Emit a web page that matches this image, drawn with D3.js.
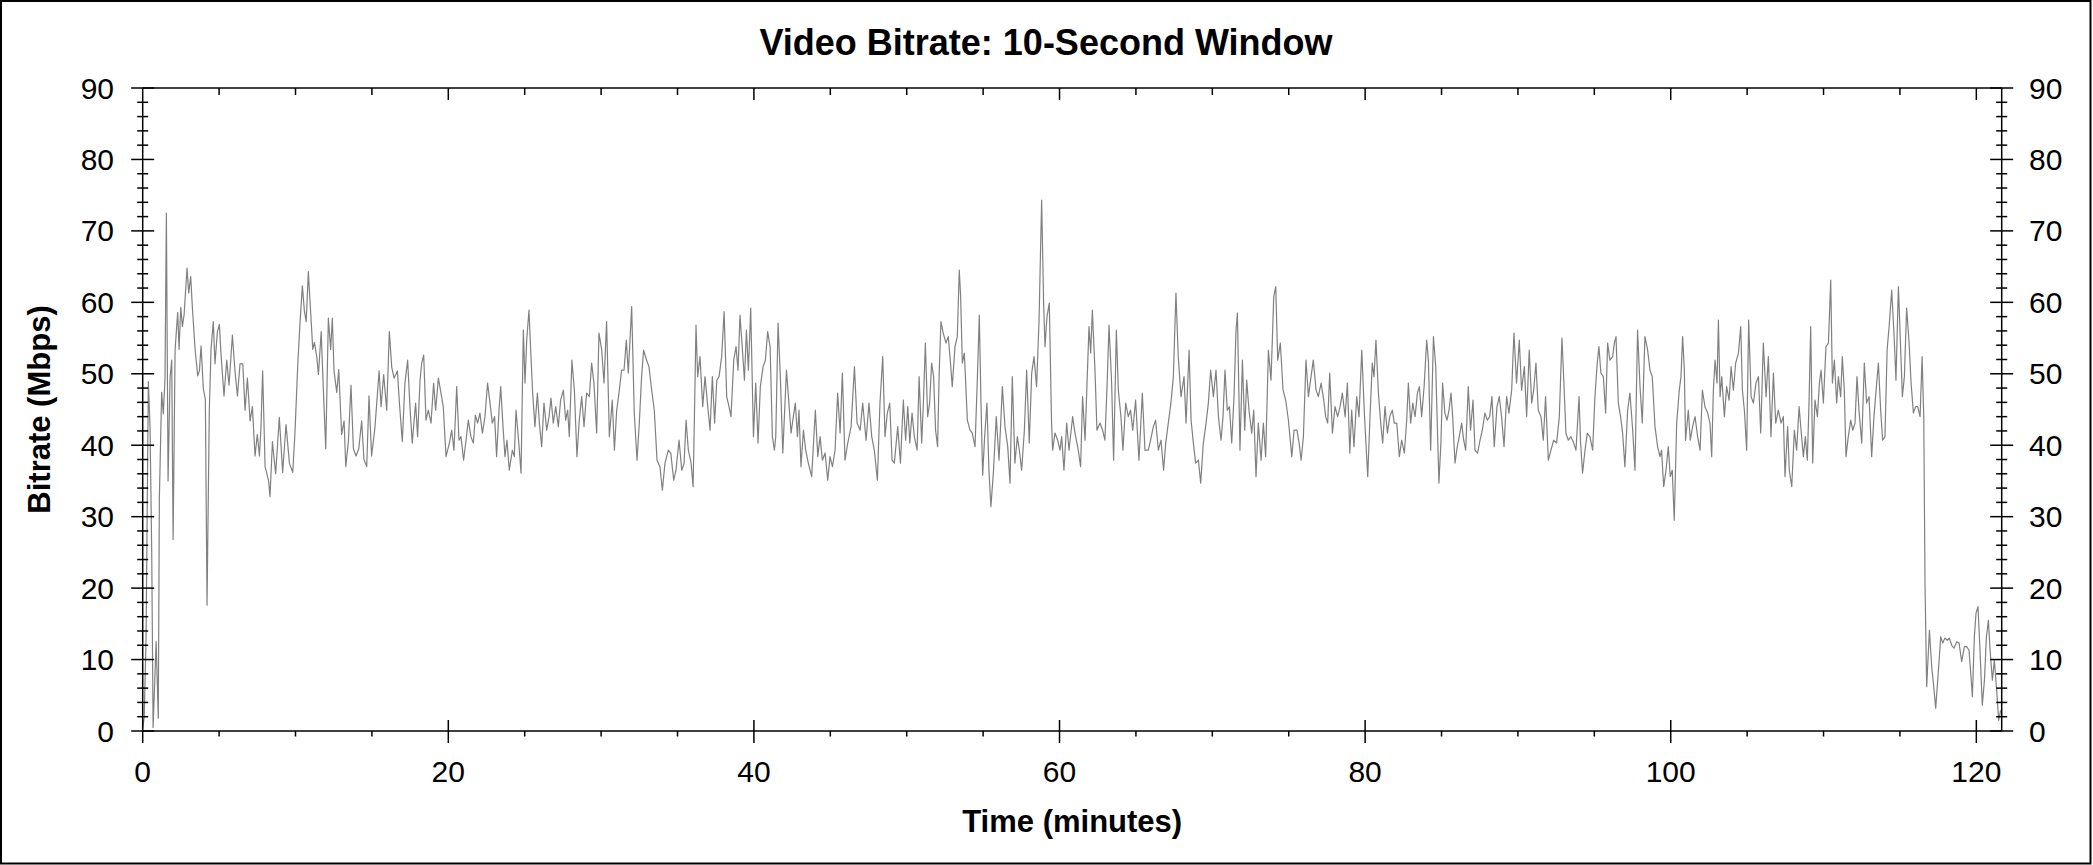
<!DOCTYPE html>
<html><head><meta charset="utf-8">
<script src="https://cdn.jsdelivr.net/npm/d3@7"></script>
<style>
body{margin:0;background:#fff}
svg{display:block}
text{font-family:Arial,"Liberation Sans",sans-serif;fill:#000}
</style>
</head><body>
<svg id="chart" width="2093" height="865"></svg>
<script>
const chartTitle = "Video Bitrate: 10-Second Window";
const xAxisTitle = "Time (minutes)";
const yAxisTitle = "Bitrate (Mbps)";
const xTickValues = [0, 20, 40, 60, 80, 100, 120];
const yTickValues = [0, 10, 20, 30, 40, 50, 60, 70, 80, 90];
const xDomain = [0, 121.66];
const yDomain = [0, 90];

// [minute, Mbps]
const bitrateSeries = [
[0,0.3],[0.1,2],[0.22,13],[0.37,48.9],[0.48,42.5],[0.59,25.1],[0.68,0.5],[0.88,12.5],[1.02,1.8],[1.09,32.5],
[1.24,47.4],[1.35,44.4],[1.46,49.4],[1.55,72.5],[1.66,35],[1.79,49.4],[1.9,51.9],[1.99,26.8],[2.12,53.4],[2.29,58.6],
[2.38,53.4],[2.49,59.3],[2.6,56.6],[2.71,58.3],[2.9,64.8],[3.01,61.3],[3.14,63.6],[3.25,59.3],[3.43,53.4],[3.6,49.7],
[3.71,50.4],[3.82,53.9],[3.97,47.9],[4.1,46.4],[4.21,17.6],[4.25,25.1],[4.36,44.9],[4.47,53.4],[4.62,57.3],[4.73,51.4],
[4.89,55.9],[5.02,56.9],[5.12,52.9],[5.32,46.9],[5.5,51.9],[5.65,48.4],[5.87,55.4],[6.04,50.4],[6.2,46.9],[6.37,51.4],
[6.55,51.4],[6.7,44.9],[6.85,49.4],[7.03,43.4],[7.18,45.4],[7.35,38.5],[7.5,41.5],[7.64,38.5],[7.74,42.5],[7.85,50.4],
[8.01,37],[8.24,35],[8.33,32.8],[8.49,40.5],[8.7,36],[8.94,43.9],[9.16,36.2],[9.38,42.9],[9.6,37.5],[9.82,36.2],
[9.97,42],[10.15,51.4],[10.3,57.3],[10.45,62.3],[10.58,58.8],[10.7,57.3],[10.84,64.3],[11,58.3],[11.13,53.4],[11.24,54.4],
[11.39,52.4],[11.5,49.9],[11.68,55.9],[11.83,47.4],[11.98,39.5],[12.15,57.8],[12.3,53.4],[12.41,57.8],[12.52,50.4],[12.7,47.4],
[12.83,50.6],[13.02,41.5],[13.18,43.4],[13.29,37],[13.46,40.5],[13.63,48.4],[13.79,39.5],[13.96,38.5],[14.14,39.5],[14.33,43.4],
[14.48,38],[14.66,37],[14.81,46.9],[14.98,38.5],[15.2,42.5],[15.47,50.4],[15.6,45.4],[15.77,49.9],[15.97,44.9],[16.14,55.9],
[16.3,50.9],[16.45,49.4],[16.67,50.4],[16.8,45.9],
[16.99,40.5],[17.16,48.7],[17.34,51.9],[17.49,45.4],[17.64,40.3],[17.86,45.9],[17.99,41.2],[18.15,49.1],[18.26,51.5],[18.39,52.6],
[18.54,43.5],[18.69,44.9],[18.87,43.1],[19.04,48.7],[19.17,44.9],[19.35,49.4],[19.52,47.3],[19.67,45.4],[19.85,38.4],[20.07,40.3],
[20.22,42.1],[20.37,39.3],[20.55,48.2],[20.7,40.7],[20.83,41.2],[21,37.9],[21.16,40.7],[21.31,43.5],[21.48,41.2],[21.64,40.3],
[21.77,44.2],[21.92,43.1],[22.07,44.5],[22.23,41.7],[22.4,44],[22.57,48.7],[22.73,45.9],[22.88,43.1],[23.03,44],[23.16,38.4],
[23.32,44.9],[23.43,48.2],[23.58,42.6],[23.71,38.4],[23.84,40.7],[23.99,36.5],[24.19,39.3],[24.32,38.4],[24.43,44.9],[24.58,41.2],
[24.76,36.1],[24.91,56.1],[25.02,48.7],[25.13,54.7],[25.28,58.9],[25.41,52.4],[25.52,47.3],[25.67,42.6],[25.83,47.3],[25.96,43.1],
[26.11,39.8],[26.26,45.9],[26.44,42.1],[26.59,44],[26.72,46.6],[26.87,43.1],[27.03,45.4],[27.2,42.6],[27.35,46.3],[27.53,47.7],
[27.68,43.5],[27.81,44.9],[27.92,41.2],[28.09,51.9],[28.25,47.7],[28.42,38.4],[28.57,43.5],[28.73,46.8],[28.88,42.6],[29.05,47.3],
[29.23,46.8],[29.38,51.5],[29.53,48.7],[29.71,41.7],[29.86,55.7],[30.04,53.3],[30.19,48.7],[30.36,57.3],[30.54,41.2],[30.73,46.3],
[30.87,39.3],[31.02,44.9],[31.17,47.3],[31.34,50.5],[31.5,50.5],[31.65,54.7],[31.78,50.1],[32,59.4],[32.17,44.5],[32.35,37.9],
[32.5,43.1],[32.65,49.6],[32.78,53.3],[32.98,51.9],[33.13,51],[33.31,47.7],[33.48,44.9],[33.66,37.9],[33.85,37],
[34.01,33.7],[34.18,37.5],[34.4,39.3],[34.56,38.9],[34.75,35.1],[34.9,36.5],[35.1,40.7],[35.28,36.5],[35.43,37.5],[35.56,43.5],
[35.71,39.3],[35.89,37.5],[36.02,34.2],[36.1,43.1],[36.21,56.8],[36.32,49.6],[36.47,52.4],[36.65,45.4],[36.8,49.6],[36.98,45.4],
[37.13,42.1],[37.28,49.6],[37.43,43.1],[37.57,49.1],[37.72,49.6],[37.89,52.4],[38.05,58.7],[38.22,46.8],[38.37,45.4],[38.5,44],
[38.68,51.9],[38.83,53.8],[38.96,50.5],[39.09,58.2],[39.25,53.3],[39.38,49.1],[39.51,56.1],[39.64,50.5],[39.79,59.2],[39.97,41.2],
[40.12,48.7],[40.27,40.3],[40.42,48.2],[40.6,51],[40.75,51.9],[40.9,55.9],[41.06,53.8],[41.21,41.2],[41.34,39.3],[41.43,41.2],
[41.58,57.1],[41.73,49.6],[41.89,38.9],[42.13,50.5],[42.26,46.8],[42.43,41.7],[42.58,44],[42.71,45.9],[42.85,41.2],[42.95,44.9],
[43.08,37],[43.24,42.1],[43.39,39.3],[43.56,37.5],[43.78,35.6],[44.02,44.9],[44.18,38.4],[44.33,41.2],[44.48,37.9],[44.66,38.9],
[44.83,35.1],[44.98,38.4],[45.14,37],[45.31,39.3],[45.48,47.3],[45.64,41.7],[45.79,50.1],[45.96,37.9],[46.14,40.3],[46.36,42.6],
[46.58,51],[46.75,43.1],[46.95,42.1],[47.12,45.9],[47.34,40.7],[47.53,45.9],[47.71,41.2],[47.88,39.3],[48.08,35.1],[48.25,45.9],
[48.43,52.4],[48.58,41.2],[48.73,44.5],[48.89,45.9],[49.04,37.9],[49.19,37.5],[49.41,42.6],[49.59,37.5],[49.78,46.3],[49.93,40.7],
[50.07,45.4],[50.2,40.3],[50.35,44.5],[50.5,41.2],[50.68,39.3],[50.81,49.6],[50.98,40.3],
[51.09,45.9],[51.22,54.3],[51.37,44],[51.5,45.9],[51.63,51.5],[51.76,49.6],[51.89,42.1],[52.02,39.8],[52.13,50.5],[52.24,57.3],
[52.39,55.7],[52.57,54.3],[52.72,55.2],[52.85,51.9],[52.98,48.2],[53.16,53.8],[53.31,55.2],[53.44,64.5],[53.53,60.8],[53.64,51.5],
[53.77,52.9],[53.97,43.5],[54.14,42.1],[54.29,41.7],[54.47,39.8],[54.62,49.1],[54.75,58.2],[54.86,45.9],[54.97,35.8],[55.1,41.2],
[55.25,45.9],[55.38,36.5],[55.51,31.4],[55.67,36.1],[55.86,44],[56.04,37.9],[56.26,48.2],[56.43,42.6],[56.61,39.8],[56.76,34.7],
[56.91,49.6],[57.08,37.5],[57.24,41.2],[57.37,39.3],[57.52,36.5],[57.7,42.1],[57.85,50.5],[58.02,40.3],[58.18,50.1],[58.33,52.4],
[58.5,48.2],[58.66,57.5],[58.83,74.3],[58.96,59.9],[59.05,53.8],[59.18,58],[59.33,59.9],[59.48,43.1],[59.55,39.3],[59.7,41.7],
[59.88,40.7],[60.03,39.3],[60.14,41.2],[60.29,36.5],[60.47,43.1],[60.62,39.3],[60.86,44],[61.01,41.7],[61.23,39.3],[61.38,37],
[61.51,46.8],[61.67,40.7],[61.77,46.8],[61.93,56.6],[62.04,52.9],[62.15,58.9],[62.32,50.5],[62.45,42.1],[62.65,43.1],[62.82,42.1],
[62.97,40.7],[63.11,48.2],[63.24,56.8],[63.41,48.7],[63.54,37.9],[63.72,56.1],[63.85,47.7],[64.02,44],[64.15,39.3],[64.33,45.9],
[64.5,44],[64.65,44.9],[64.79,42.1],[64.98,46.3],[65.2,37.9],[65.42,47.3],[65.59,39.3],[65.81,39.3],[65.96,40.7],[66.14,42.6],
[66.29,43.5],[66.47,39.3],[66.64,40.7],[66.81,36.5],[66.95,40.3],[67.12,43.1],[67.29,45.9],[67.45,49.6],[67.62,61.3],[67.77,52.4],
[67.95,46.8],
[68.15,49.6],[68.28,43.1],[68.48,53.3],[68.61,43.5],[68.76,40.3],[68.91,37.5],[69.09,37.9],[69.24,34.7],[69.41,40.3],[69.59,43.1],
[69.74,45.9],[69.89,50.5],[70.07,46.8],[70.24,50.5],[70.4,44],[70.57,40.7],[70.7,44],[70.83,50.5],[70.98,44.9],[71.12,45.4],
[71.27,40.3],[71.42,46.8],[71.55,56.1],[71.64,58.5],[71.81,39.3],[71.97,51.9],[72.12,42.1],[72.25,49.1],[72.4,44.9],[72.58,41.7],
[72.71,44.9],[72.86,35.6],[73.01,43.1],[73.19,37.9],[73.34,43.1],[73.49,38.4],[73.67,53.3],[73.84,49.1],[74.02,60.8],[74.15,62.2],
[74.28,51.9],[74.45,54.3],[74.63,47.7],[74.8,46.3],[74.98,43.5],[75.2,38.4],[75.35,42.1],[75.54,42.1],[75.68,40.3],[75.81,37.9],
[75.96,41.2],[76.13,51.9],[76.29,46.8],[76.46,49.6],[76.61,51.9],[76.79,47.7],[76.94,46.8],[77.12,48.7],[77.29,46.3],[77.42,44],
[77.55,43.1],[77.68,50.1],[77.86,41.7],[78.03,45.4],[78.2,44],[78.36,45.4],[78.51,47.3],[78.69,44],[78.84,48.7],[79,38.9],
[79.12,44.9],[79.27,39.8],[79.45,46.8],[79.6,44],[79.78,53.3],[79.95,44.5],[80.17,35.6],[80.32,44],[80.47,51.5],[80.58,49.6],
[80.71,54.7],[80.87,47.3],[81.02,43.1],[81.15,40.3],[81.3,45.4],[81.46,41.7],[81.61,44],[81.78,44.9],[81.91,43.1],[82.07,43.1],
[82.24,38.4],[82.39,40.7],[82.57,38.9],[82.72,43.5],[82.83,48.7],[82.98,43.1],[83.12,45.9],[83.27,44],[83.42,47.3],[83.55,48.2],
[83.7,44],[83.86,48.2],[84.03,54.7],[84.14,51.9],[84.29,39.3],[84.47,55.2],[84.62,51],
[84.83,34.7],[84.96,40.3],[85.07,48.7],[85.22,44.5],[85.36,43.5],[85.49,44.9],[85.62,47.3],[85.73,44],[85.88,37.5],[86.03,39.8],
[86.16,41.2],[86.32,43.1],[86.45,40.7],[86.58,39.3],[86.75,48.2],[86.9,42.1],[87.06,46.3],[87.19,39.3],[87.36,38.9],[87.52,40.7],
[87.67,42.1],[87.84,44.5],[88,43.5],[88.15,44],[88.3,46.8],[88.45,39.8],[88.63,45.4],[88.78,46.8],[88.93,44],[89.09,39.8],
[89.26,46.8],[89.41,44.5],[89.59,47.7],[89.74,55.7],[89.91,48.7],[90.09,54.7],[90.24,47.7],[90.42,51],[90.57,44],[90.74,53.3],
[90.9,45.9],[91.03,47.7],[91.18,51.5],[91.33,44.9],[91.51,44],[91.66,40.7],[91.81,46.8],[91.99,37.9],[92.16,39.3],[92.34,40.7],
[92.53,40.3],[92.71,44],[92.88,55],[93.01,48.7],[93.14,41.7],[93.3,40.7],[93.47,41.2],[93.65,40.3],[93.8,39.3],[94,46.8],
[94.1,40.3],[94.23,36.1],[94.39,39.3],[94.54,41.7],[94.71,41.2],[94.89,39.3],[95.04,46.8],[95.19,51.5],[95.3,53.8],[95.43,50.1],
[95.59,49.6],[95.74,44.5],[95.87,54.3],[96.02,51.9],[96.2,52.4],[96.31,54.3],[96.42,55.2],[96.57,45.9],[96.72,44],[96.85,41.7],
[97,37],[97.18,44.9],[97.33,47.3],[97.51,42.1],[97.66,36.5],[97.83,56.1],[97.99,48.2],[98.14,43.1],[98.31,55.2],[98.49,53.3],
[98.64,50.5],[98.79,49.6],[98.97,42.6],[99.14,39.8],[99.3,38.4],[99.4,39.3],[99.54,34.2],[99.69,36.5],[99.84,39.8],[99.97,35.6],
[100.1,36.5],[100.23,29.5],[100.39,43.1],[100.56,47.7],[100.67,49.6],[100.78,55.2],[100.89,50.5],[100.97,40.7],[101.15,44.9],[101.28,40.7],
[101.43,42.6],
[101.59,44],[101.76,41.2],[101.92,39.3],[102.07,47.7],[102.24,45.4],[102.42,44.5],[102.57,43.1],[102.68,38.4],[102.79,47.7],[102.9,51.9],
[103.03,48.7],[103.12,57.5],[103.23,46.8],[103.34,49.6],[103.51,44],[103.66,48.2],[103.82,46.3],[103.95,51],[104.1,47.7],[104.25,51.5],
[104.43,52.9],[104.58,56.6],[104.69,47.7],[104.82,44.9],[104.97,39.3],[105.1,57.5],[105.26,46.8],[105.41,45.9],[105.58,48.7],[105.74,49.6],
[105.89,41.7],[106.06,54.3],[106.24,46.8],[106.39,52.4],[106.56,41.2],[106.72,50.1],[106.87,43.1],[107.04,44.9],[107.22,43.1],[107.37,44],
[107.48,35.6],[107.65,42.6],[107.76,36.5],[107.92,34.2],[108.09,42.1],[108.24,39.3],[108.4,45.4],[108.53,42.1],[108.68,38.4],[108.81,41.2],
[108.94,37.9],[109.05,45.9],[109.16,56.6],[109.29,37.5],[109.44,46.3],[109.6,44],[109.73,48.7],[109.84,50.5],[109.99,45.9],[110.16,53.8],
[110.32,54.3],[110.47,63.1],[110.58,48.7],[110.71,51.9],[110.86,45.9],[110.97,49.6],[111.12,46.8],[111.23,52.4],[111.36,47.7],[111.47,38.4],
[111.62,41.2],[111.78,43.5],[111.91,42.1],[112.06,43.1],[112.19,49.6],[112.32,44.9],[112.5,40.3],[112.67,51.5],[112.82,45.9],[112.98,46.8],
[113.15,38.4],[113.3,44],[113.44,47.7],[113.59,51.5],[113.74,44.9],[113.87,40.7],[114.02,41.2],[114.16,53.3],[114.31,57.1],[114.46,61.7],
[114.61,55.7],[114.74,49.1],[114.9,62.2],[115.05,53.3],[115.16,46.8],[115.29,49.6],[115.44,59.2],[115.6,54.3],[115.73,48.7],[115.88,44.5],
[116.03,45.4],[116.16,45.4],[116.32,44],[116.45,52.4],[116.56,44],[116.64,20.7],[116.75,6.2],[116.93,14.1],[117.08,9],[117.19,6.7],
[117.34,3.2],[117.52,8.5],[117.67,13.2],[117.8,12.3],[117.95,13],[118.1,12.7],[118.23,13],[118.39,12],[118.54,11.6],[118.72,12.5],
[118.87,12.3],[119.04,9.7],[119.22,11.8],[119.37,11.8],[119.52,11.3],[119.65,7.6],[119.74,4.8],[119.87,13.2],[119.98,16.5],[120.11,17.4],
[120.24,11.3],[120.39,3.6],[120.53,7.1],[120.66,13.2],[120.79,15.5],[120.9,11.3],[121.05,7.1],[121.18,9.9],[121.33,5.7],[121.46,1.5],
[121.59,2.9]
];

const svg = d3.select("#chart");
const W = 2093, H = 865;
const x = d3.scaleLinear().domain(xDomain).range([142.7, 2001.7]);
const y = d3.scaleLinear().domain(yDomain).range([731, 88]);

// outer frame
svg.append("rect").attr("x", 1).attr("y", 1).attr("width", 2089.5).attr("height", 862.5)
  .attr("fill", "#fff").attr("stroke", "#000").attr("stroke-width", 2);

// data line
svg.append("path").datum(bitrateSeries)
  .attr("d", d3.line().x(d => x(d[0])).y(d => y(d[1])))
  .attr("fill", "none").attr("stroke", "#808080").attr("stroke-width", 1.2)
  .attr("stroke-linejoin", "round");

const axisG = svg.append("g").attr("stroke", "#000").attr("stroke-width", 1.5);
const x0 = x(xDomain[0]), x1 = x(xDomain[1]), yb = y(0), yt = y(90);

// plot border lines
axisG.append("line").attr("x1", x0).attr("x2", x0).attr("y1", yt).attr("y2", yb);
axisG.append("line").attr("x1", x1).attr("x2", x1).attr("y1", yt).attr("y2", yb);
axisG.append("line").attr("x1", x0).attr("x2", x1).attr("y1", yt).attr("y2", yt);
axisG.append("line").attr("x1", x0).attr("x2", x1).attr("y1", yb).attr("y2", yb);

// y ticks (both sides, crossing)
const yMinor = d3.range(0, 91, 2).filter(v => v % 10 !== 0);
yMinor.forEach(v => {
  axisG.append("line").attr("x1", x0 - 5.5).attr("x2", x0 + 5.5).attr("y1", y(v)).attr("y2", y(v));
  axisG.append("line").attr("x1", x1 - 5.5).attr("x2", x1 + 5.5).attr("y1", y(v)).attr("y2", y(v));
});
yTickValues.forEach(v => {
  axisG.append("line").attr("x1", x0 - 11.5).attr("x2", x0 + 11.5).attr("y1", y(v)).attr("y2", y(v));
  axisG.append("line").attr("x1", x1 - 11.5).attr("x2", x1 + 11.5).attr("y1", y(v)).attr("y2", y(v));
});

// x ticks
const xMinor = d3.range(0, 121, 5).filter(v => v % 20 !== 0);
xMinor.forEach(v => {
  axisG.append("line").attr("x1", x(v)).attr("x2", x(v)).attr("y1", yb).attr("y2", yb + 5.5);
  axisG.append("line").attr("x1", x(v)).attr("x2", x(v)).attr("y1", yt).attr("y2", yt + 7);
});
xTickValues.forEach(v => {
  axisG.append("line").attr("x1", x(v)).attr("x2", x(v)).attr("y1", v === 0 ? yb : yb - 11).attr("y2", yb + 12);
  if (v !== 0) axisG.append("line").attr("x1", x(v)).attr("x2", x(v)).attr("y1", yt).attr("y2", yt + 12);
});

// tick labels
svg.append("g").selectAll("text").data(yTickValues).join("text")
  .attr("x", 114).attr("y", d => y(d)).attr("dy", "0.35em")
  .attr("text-anchor", "end").attr("font-size", 30).text(d => d);
svg.append("g").selectAll("text").data(yTickValues).join("text")
  .attr("x", 2029).attr("y", d => y(d)).attr("dy", "0.35em")
  .attr("text-anchor", "start").attr("font-size", 30).text(d => d);
svg.append("g").selectAll("text").data(xTickValues).join("text")
  .attr("x", d => x(d)).attr("y", 782)
  .attr("text-anchor", "middle").attr("font-size", 30).text(d => d);

// titles
svg.append("text").attr("x", 1046).attr("y", 55).attr("text-anchor", "middle")
  .attr("font-size", 36).attr("font-weight", "bold").text(chartTitle);
svg.append("text").attr("x", (x0 + x1) / 2).attr("y", 832).attr("text-anchor", "middle")
  .attr("font-size", 31).attr("font-weight", "bold").text(xAxisTitle);
svg.append("text").attr("transform", `translate(50,${(yt + yb) / 2}) rotate(-90)`)
  .attr("text-anchor", "middle").attr("font-size", 31).attr("font-weight", "bold").text(yAxisTitle);
</script>
</body></html>
